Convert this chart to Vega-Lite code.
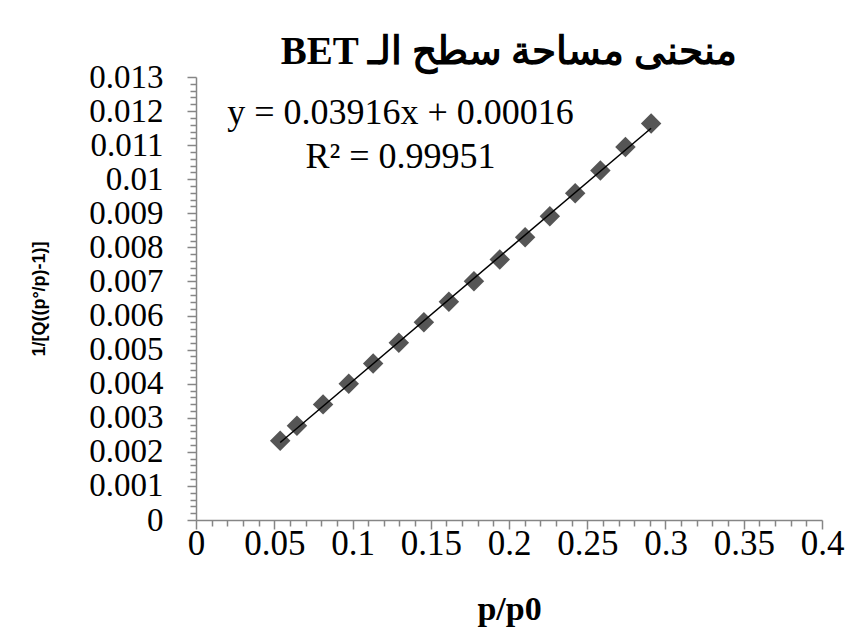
{
  "$schema": "https://vega.github.io/schema/vega-lite/v6.json",
  "width": 626,
  "height": 443,
  "autosize": "none",
  "padding": {"left": 196, "top": 77, "right": 28, "bottom": 124},
  "background": "white",
  "config": {"view": {"stroke": null}, "font": "Liberation Serif"},
  "title": {
    "text": "BET منحنى مساحة سطح الـ",
    "font": "Liberation Serif",
    "fontSize": 39,
    "fontWeight": "bold",
    "color": "black",
    "frame": "group",
    "anchor": "middle",
    "baseline": "alphabetic",
    "offset": -42
  },
  "datasets": {
    "bet": [
      {"p_p0": 0.0538, "inv": 0.002326},
      {"p_p0": 0.0645, "inv": 0.002765},
      {"p_p0": 0.0812, "inv": 0.003393},
      {"p_p0": 0.0976, "inv": 0.003997},
      {"p_p0": 0.1132, "inv": 0.004595},
      {"p_p0": 0.1296, "inv": 0.005199},
      {"p_p0": 0.1456, "inv": 0.005806},
      {"p_p0": 0.1616, "inv": 0.006402},
      {"p_p0": 0.1776, "inv": 0.007009},
      {"p_p0": 0.1941, "inv": 0.007645},
      {"p_p0": 0.2103, "inv": 0.008299},
      {"p_p0": 0.2261, "inv": 0.008915},
      {"p_p0": 0.2423, "inv": 0.009589},
      {"p_p0": 0.2584, "inv": 0.010255},
      {"p_p0": 0.2744, "inv": 0.010947},
      {"p_p0": 0.2908, "inv": 0.011633}
    ]
  },
  "resolve": {"axis": {"x": "independent", "y": "independent"}},
  "layer": [
    {
      "data": {"name": "bet"},
      "mark": {"type": "point", "shape": "diamond", "filled": true, "size": 420, "color": "#555555", "opacity": 1},
      "encoding": {
        "x": {
          "field": "p_p0",
          "type": "quantitative",
          "scale": {"domain": [0, 0.4], "nice": false, "zero": false},
          "axis": {
            "values": [0,0.01,0.02,0.03,0.04,0.05,0.06,0.07,0.08,0.09,0.1,0.11,0.12,0.13,0.14,0.15,0.16,0.17,0.18,0.19,0.2,0.21,0.22,0.23,0.24,0.25,0.26,0.27,0.28,0.29,0.3,0.31,0.32,0.33,0.34,0.35,0.36,0.37,0.38,0.39,0.4],
            "labelExpr": "abs(datum.value*20 - round(datum.value*20)) < 1e-6 ? format(datum.value, '.2~f') : ''",
            "tickSize": {"condition": {"test": "abs(datum.value*20 - round(datum.value*20)) < 1e-6", "value": 9}, "value": 6},
            "labelPadding": -3,
            "labelFont": "Liberation Serif",
            "labelFontSize": 35,
            "labelColor": "black",
            "labelOverlap": false,
            "labelFlush": false,
            "labelBound": false,
            "domainColor": "#868686",
            "domainWidth": 1.5,
            "tickColor": "#868686",
            "tickWidth": 1.5,
            "grid": false,
            "title": "p/p0",
            "titleFont": "Liberation Serif",
            "titleFontSize": 34,
            "titleFontWeight": "bold",
            "titleColor": "black",
            "titlePadding": 31
          }
        },
        "y": {
          "field": "inv",
          "type": "quantitative",
          "scale": {"domain": [0, 0.013], "nice": false, "zero": false},
          "axis": {
            "values": [0,0.0002,0.0004,0.0006,0.0008,0.001,0.0012,0.0014,0.0016,0.0018,0.002,0.0022,0.0024,0.0026,0.0028,0.003,0.0032,0.0034,0.0036,0.0038,0.004,0.0042,0.0044,0.0046,0.0048,0.005,0.0052,0.0054,0.0056,0.0058,0.006,0.0062,0.0064,0.0066,0.0068,0.007,0.0072,0.0074,0.0076,0.0078,0.008,0.0082,0.0084,0.0086,0.0088,0.009,0.0092,0.0094,0.0096,0.0098,0.01,0.0102,0.0104,0.0106,0.0108,0.011,0.0112,0.0114,0.0116,0.0118,0.012,0.0122,0.0124,0.0126,0.0128,0.013],
            "labelExpr": "abs(datum.value*1000 - round(datum.value*1000)) < 1e-6 ? format(datum.value, '.3~f') : ''",
            "tickSize": {"condition": {"test": "abs(datum.value*1000 - round(datum.value*1000)) < 1e-6", "value": 9}, "value": 6},
            "labelPadding": 24,
            "labelFont": "Liberation Serif",
            "labelFontSize": 33,
            "labelColor": "black",
            "labelOverlap": false,
            "labelFlush": false,
            "labelBound": false,
            "domainColor": "#868686",
            "domainWidth": 1.5,
            "tickColor": "#868686",
            "tickWidth": 1.5,
            "grid": false,
            "title": "1/[Q((p°/p)-1)]",
            "titleFont": "Liberation Sans",
            "titleFontSize": 18,
            "titleFontWeight": "bold",
            "titleColor": "black",
            "titlePadding": 40
          }
        }
      }
    },
    {
      "data": {"name": "bet"},
      "transform": [{"regression": "inv", "on": "p_p0"}],
      "mark": {"type": "line", "color": "black", "strokeWidth": 1.5},
      "encoding": {
        "x": {"field": "p_p0", "type": "quantitative", "axis": null},
        "y": {"field": "inv", "type": "quantitative", "axis": null}
      }
    },
    {
      "data": {"values": [{}]},
      "mark": {"type": "text", "font": "Liberation Serif", "fontSize": 36, "color": "black", "align": "center", "baseline": "alphabetic", "lineHeight": 44},
      "encoding": {
        "x": {"datum": 0.1307, "type": "quantitative", "axis": null},
        "y": {"datum": 0.01161, "type": "quantitative", "axis": null},
        "text": {"value": ["y = 0.03916x + 0.00016", "R² = 0.99951"]}
      }
    }
  ]
}
